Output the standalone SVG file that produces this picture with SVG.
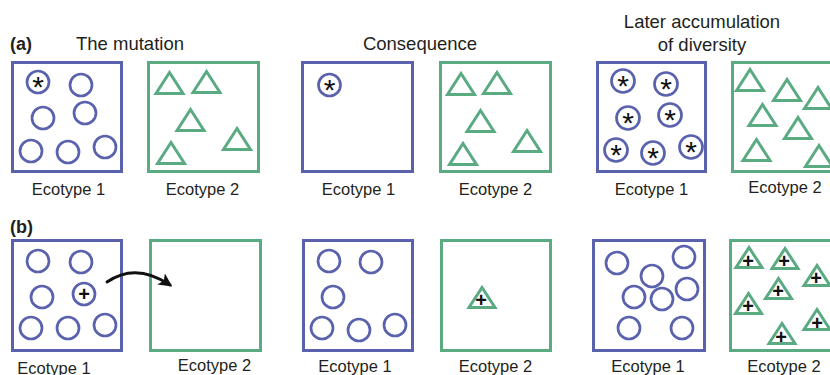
<svg xmlns="http://www.w3.org/2000/svg" xmlns:xlink="http://www.w3.org/1999/xlink" width="830" height="375" viewBox="0 0 830 375">
  <style>
    text { font-family: "Liberation Sans", Arial, sans-serif; fill: #231f20; }
    .title { font-size: 18.5px; text-anchor: middle; }
    .tag { font-size: 18px; font-weight: bold; }
    .lab { font-size: 16.5px; text-anchor: middle; }
    .star { font-size: 30px; text-anchor: middle; fill: #111; }
    .plus { font-size: 20px; font-weight: bold; text-anchor: middle; fill: #111; }
    .bbox { fill: #fff; stroke: #5a62ad; stroke-width: 3; }
    .gbox { fill: #fff; stroke: #5aaa82; stroke-width: 3; }
    .cell { fill: none; stroke: #5a62ad; stroke-width: 2.7; }
    .tri { fill: none; stroke: #5aaa82; stroke-width: 3; stroke-linejoin: miter; }
    .arrow { fill: none; stroke: #111; stroke-width: 3; stroke-linecap: round; }
  </style>
  <defs>
    <!-- triangle drawn from its apex -->
    <path id="t" d="M0,0 L-13.5,21 L13.5,21 Z"/>
    <path id="ts" d="M0,0 L-13,20 L13,20 Z"/>
    <marker id="head" viewBox="0 0 10 10" refX="8" refY="5" markerWidth="4.5" markerHeight="4.5" orient="auto" markerUnits="strokeWidth">
      <path d="M0,0 L10,5 L0,10 L2.5,5 Z" fill="#111"/>
    </marker>
  </defs>

  <!-- column headings -->
  <g id="headings">
    <text class="tag" x="10" y="50">(a)</text>
    <text class="title" x="130" y="50">The mutation</text>
    <text class="title" x="420" y="50">Consequence</text>
    <text class="title" x="702" y="28">Later accumulation</text>
    <text class="title" x="702" y="51">of diversity</text>
    <text class="tag" x="10" y="233">(b)</text>
  </g>

  <!-- (a) the mutation -->
  <g id="a-mut-eco1">
    <rect class="bbox" x="12.5" y="62.5" width="109" height="109"/>
    <circle class="cell" cx="38" cy="82" r="11"/>
    <text class="star" x="38" y="97">*</text>
    <circle class="cell" cx="81" cy="85" r="11"/>
    <circle class="cell" cx="43" cy="118" r="11"/>
    <circle class="cell" cx="85" cy="113" r="11"/>
    <circle class="cell" cx="31" cy="151" r="11"/>
    <circle class="cell" cx="68" cy="152" r="11"/>
    <circle class="cell" cx="105" cy="147" r="11"/>
    <text class="lab" x="68.5" y="195">Ecotype 1</text>
  </g>
  <g id="a-mut-eco2">
    <rect class="gbox" x="148.5" y="62.5" width="110" height="109"/>
    <use class="tri" xlink:href="#t" x="169.5" y="72.5"/>
    <use class="tri" xlink:href="#t" x="206.5" y="71.5"/>
    <use class="tri" xlink:href="#t" x="190.5" y="109.5"/>
    <use class="tri" xlink:href="#t" x="237" y="128.5"/>
    <use class="tri" xlink:href="#t" x="171" y="142.5"/>
    <text class="lab" x="202.5" y="195">Ecotype 2</text>
  </g>

  <!-- (a) consequence -->
  <g id="a-con-eco1">
    <rect class="bbox" x="302.5" y="62.5" width="110" height="109"/>
    <circle class="cell" cx="329.5" cy="85" r="11"/>
    <text class="star" x="329.5" y="100">*</text>
    <text class="lab" x="358.5" y="195">Ecotype 1</text>
  </g>
  <g id="a-con-eco2">
    <rect class="gbox" x="440.5" y="62.5" width="110" height="109"/>
    <use class="tri" xlink:href="#t" x="461" y="73.5"/>
    <use class="tri" xlink:href="#t" x="497" y="72.5"/>
    <use class="tri" xlink:href="#t" x="480.5" y="110.5"/>
    <use class="tri" xlink:href="#t" x="527" y="130.5"/>
    <use class="tri" xlink:href="#t" x="463" y="143.5"/>
    <text class="lab" x="495.5" y="195">Ecotype 2</text>
  </g>

  <!-- (a) later accumulation of diversity -->
  <g id="a-later-eco1">
    <rect class="bbox" x="597.5" y="62.5" width="108" height="109"/>
    <circle class="cell" cx="623" cy="81" r="11.5"/>
    <circle class="cell" cx="666" cy="84" r="11.5"/>
    <circle class="cell" cx="628" cy="118" r="11.5"/>
    <circle class="cell" cx="670" cy="115" r="11.5"/>
    <circle class="cell" cx="616" cy="150" r="11.5"/>
    <circle class="cell" cx="653" cy="153" r="11.5"/>
    <circle class="cell" cx="691" cy="147" r="11.5"/>
    <text class="star" x="623" y="96">*</text>
    <text class="star" x="666" y="99">*</text>
    <text class="star" x="628" y="133">*</text>
    <text class="star" x="670" y="130">*</text>
    <text class="star" x="616" y="165">*</text>
    <text class="star" x="653" y="168">*</text>
    <text class="star" x="691" y="162">*</text>
    <text class="lab" x="651.5" y="195">Ecotype 1</text>
  </g>
  <g id="a-later-eco2">
    <rect class="gbox" x="732.5" y="62.5" width="110" height="109"/>
    <use class="tri" xlink:href="#t" x="750" y="69.5"/>
    <use class="tri" xlink:href="#t" x="787" y="79.5"/>
    <use class="tri" xlink:href="#t" x="818" y="87.5"/>
    <use class="tri" xlink:href="#t" x="762.5" y="104.5"/>
    <use class="tri" xlink:href="#t" x="798" y="117.5"/>
    <use class="tri" xlink:href="#t" x="756.5" y="139.5"/>
    <use class="tri" xlink:href="#t" x="819" y="145.5"/>
    <text class="lab" x="785" y="193">Ecotype 2</text>
  </g>

  <!-- (b) the mutation -->
  <g id="b-mut-eco1">
    <rect class="bbox" x="12.5" y="240.5" width="109" height="110"/>
    <circle class="cell" cx="38" cy="261" r="11"/>
    <circle class="cell" cx="81" cy="262" r="11"/>
    <circle class="cell" cx="42" cy="297" r="11"/>
    <circle class="cell" cx="84" cy="294" r="11"/>
    <text class="plus" x="84" y="301">+</text>
    <circle class="cell" cx="31" cy="328" r="11"/>
    <circle class="cell" cx="68" cy="328" r="11"/>
    <circle class="cell" cx="105" cy="325" r="11"/>
    <text class="lab" x="54" y="373.5">Ecotype 1</text>
  </g>
  <g id="b-mut-eco2">
    <rect class="gbox" x="150.5" y="240.5" width="110" height="110"/>
    <text class="lab" x="214.5" y="371">Ecotype 2</text>
  </g>

  <!-- (b) consequence -->
  <g id="b-con-eco1">
    <rect class="bbox" x="303.5" y="240.5" width="109" height="110"/>
    <circle class="cell" cx="329" cy="261" r="11"/>
    <circle class="cell" cx="371" cy="262" r="11"/>
    <circle class="cell" cx="333" cy="297" r="11"/>
    <circle class="cell" cx="322" cy="328" r="11"/>
    <circle class="cell" cx="359" cy="330" r="11"/>
    <circle class="cell" cx="395" cy="325" r="11"/>
    <text class="lab" x="355" y="372">Ecotype 1</text>
  </g>
  <g id="b-con-eco2">
    <rect class="gbox" x="441.5" y="240.5" width="109" height="110"/>
    <use class="tri" xlink:href="#ts" x="482" y="287.5"/>
    <text class="plus" x="481" y="307">+</text>
    <text class="lab" x="495.5" y="372">Ecotype 2</text>
  </g>

  <!-- (b) later accumulation of diversity -->
  <g id="b-later-eco1">
    <rect class="bbox" x="593.5" y="240.5" width="111" height="110"/>
    <circle class="cell" cx="617" cy="263" r="11"/>
    <circle class="cell" cx="684" cy="257" r="11"/>
    <circle class="cell" cx="652" cy="276" r="11"/>
    <circle class="cell" cx="634" cy="297" r="11"/>
    <circle class="cell" cx="662" cy="299" r="11"/>
    <circle class="cell" cx="687" cy="289" r="11"/>
    <circle class="cell" cx="629" cy="328" r="11"/>
    <circle class="cell" cx="682" cy="328" r="11"/>
    <text class="lab" x="648" y="372">Ecotype 1</text>
  </g>
  <g id="b-later-eco2">
    <rect class="gbox" x="730.5" y="240.5" width="110" height="110"/>
    <use class="tri" xlink:href="#ts" x="749" y="247.5"/>
    <use class="tri" xlink:href="#ts" x="785" y="248.5"/>
    <use class="tri" xlink:href="#ts" x="817" y="265.5"/>
    <use class="tri" xlink:href="#ts" x="778.5" y="278.5"/>
    <use class="tri" xlink:href="#ts" x="748.5" y="293.5"/>
    <use class="tri" xlink:href="#ts" x="817" y="309.5"/>
    <use class="tri" xlink:href="#ts" x="782" y="323.5"/>
    <text class="plus" x="748" y="268">+</text>
    <text class="plus" x="784" y="268">+</text>
    <text class="plus" x="816" y="285">+</text>
    <text class="plus" x="778" y="298">+</text>
    <text class="plus" x="748" y="313">+</text>
    <text class="plus" x="817" y="330">+</text>
    <text class="plus" x="781" y="344">+</text>
    <text class="lab" x="784" y="372">Ecotype 2</text>
  </g>

  <!-- transfer of the mutant lineage into the empty niche -->
  <g id="connectors">
    <path class="arrow" d="M107,282 Q136,262 170,285" marker-end="url(#head)"/>
  </g>
</svg>
